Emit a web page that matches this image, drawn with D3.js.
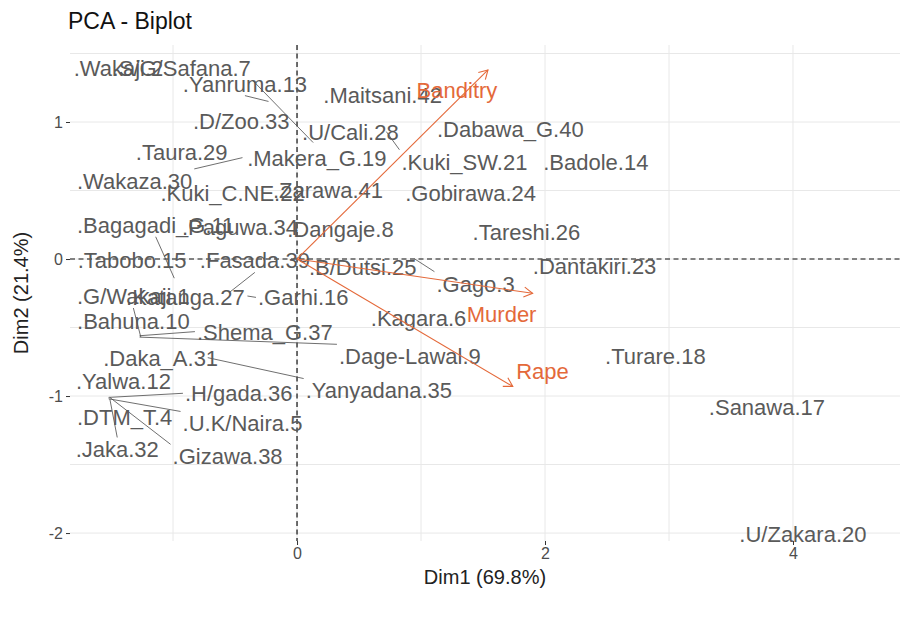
<!DOCTYPE html>
<html>
<head>
<meta charset="utf-8">
<script src="https://cdn.jsdelivr.net/npm/d3@7"></script>
<style>
  body { margin: 0; background: #fff; }
  svg { display: block; }
</style>
</head>
<body>
<svg id="chart" width="903" height="624"></svg>
<script>
// Individuals: names, PCA coordinates and repelled label positions (Dim1, Dim2)
const names = [
  ".Wakaji.2", ".S/G/Safana.7", ".Yanruma.13", ".D/Zoo.33", ".Maitsani.42", ".U/Cali.28",
  ".Dabawa_G.40", ".Taura.29", ".Makera_G.19", ".Kuki_SW.21", ".Badole.14", ".Wakaza.30",
  ".Kuki_C.NE.22", ".Zarawa.41", ".Gobirawa.24", ".Bagagadi_G.11", ".Paguwa.34", ".Dangaje.8",
  ".Tareshi.26", ".Tabobo.15", ".Fasada.39", ".B/Dutsi.25", ".Gago.3", ".Dantakiri.23",
  ".G/Wakaji.1", ".Katanga.27", ".Garhi.16", ".Bahuna.10", ".Kagara.6", ".Shema_G.37",
  ".Daka_A.31", ".Dage-Lawal.9", ".Turare.18", ".Yalwa.12", ".H/gada.36", ".Yanyadana.35",
  ".DTM_T.4", ".U.K/Naira.5", ".Jaka.32", ".Gizawa.38", ".Sanawa.17", ".U/Zakara.20"
];
const dim1 = [
  -1.44, 0.13, -0.23, -0.45, 0.69, 0.43,
  1.72, -0.93, 0.16, 0.72, 2.41, -0.44,
  -0.52, 0.25, 1.40, -0.99, -0.46, 0.35,
  1.85, -1.33, -0.54, 0.53, 0.95, 2.40,
  -1.26, -0.90, -0.40, -1.32, 0.98, -1.27,
  -1.10, -1.27, 2.89, -1.40, -1.52, -0.72,
  -1.39, -1.52, -1.51, -1.51, 3.79, 4.08
];
const dim2 = [
  1.39, 0.85, 1.15, 1.01, 1.20, 0.93,
  0.95, 0.78, 0.74, 0.93, 0.71, 0.74,
  0.48, 0.50, 0.48, -0.14, 0.23, 0.22,
  0.20, -0.01, -0.24, -0.06, 0.00, -0.05,
  -0.57, -0.28, -0.27, -0.45, -0.43, -0.56,
  -0.72, -0.57, -0.71, -0.89, -1.01, -0.72,
  -1.15, -1.02, -1.02, -1.01, -1.08, -2.01
];
const labelDim1 = [
  -1.44, -0.93, -0.42, -0.45, 0.69, 0.43,
  1.72, -0.93, 0.16, 1.35, 2.41, -1.31,
  -0.52, 0.25, 1.40, -1.14, -0.46, 0.35,
  1.85, -1.33, -0.34, 0.53, 1.44, 2.40,
  -1.32, -0.90, 0.05, -1.32, 0.98, -0.26,
  -1.10, 0.91, 2.89, -1.40, -0.47, 0.66,
  -1.39, -0.44, -1.45, -0.56, 3.79, 4.08
];
const labelDim2 = [
  1.39, 1.39, 1.28, 1.01, 1.20, 0.93,
  0.95, 0.78, 0.74, 0.71, 0.71, 0.57,
  0.48, 0.50, 0.48, 0.25, 0.23, 0.22,
  0.20, -0.01, -0.01, -0.06, -0.18, -0.05,
  -0.27, -0.28, -0.28, -0.45, -0.43, -0.53,
  -0.72, -0.71, -0.71, -0.89, -0.98, -0.96,
  -1.15, -1.20, -1.39, -1.44, -1.08, -2.01
];

// Variables: loadings drawn as arrows from the origin
const varNames = ["Banditry", "Murder", "Rape"];
const varDim1 = [1.54, 1.90, 1.74];
const varDim2 = [1.38, -0.25, -0.93];
const varLabelDim1 = [1.29, 1.65, 1.98];
const varLabelDim2 = [1.23, -0.40, -0.82];

// Axis ticks and grid
const xTicks = [0, 2, 4];
const xMinorTicks = [-1, 1, 3];
const yTicks = [-2, -1, 0, 1];
const yMinorTicks = [-1.5, -0.5, 0.5, 1.5];
const xDomain = [-1.831, 4.863];
const yDomain = [-2.058, 1.562];

const titleText = "PCA - Biplot";
const xTitle = "Dim1 (69.8%)";
const yTitle = "Dim2 (21.4%)";

const W = 903, H = 624;
const panel = { left: 70, right: 900, top: 45, bottom: 541 };
const FONT = "'Liberation Sans', Arial, Helvetica, sans-serif";
const labelSize = 22;
const indColor = "#5a5a5a";
const varColor = "#e4693a";

const svg = d3.select("#chart");
svg.append("rect").attr("width", W).attr("height", H).attr("fill", "#fff");

const x = d3.scaleLinear().domain(xDomain).range([panel.left, panel.right]);
const y = d3.scaleLinear().domain(yDomain).range([panel.bottom, panel.top]);

// Grid lines
const grid = svg.append("g").attr("stroke", "#e8e8e8").attr("stroke-width", 1);
grid.selectAll("line.vx").data(xTicks.concat(xMinorTicks)).join("line")
  .attr("x1", d => x(d)).attr("x2", d => x(d))
  .attr("y1", panel.top).attr("y2", panel.bottom);
grid.selectAll("line.hy").data(yTicks.concat(yMinorTicks)).join("line")
  .attr("x1", panel.left).attr("x2", panel.right)
  .attr("y1", d => y(d)).attr("y2", d => y(d));

// Axes (ticks + labels), axis lines hidden as in a minimal theme
const xAxis = svg.append("g")
  .attr("transform", `translate(0,${panel.bottom})`)
  .call(d3.axisBottom(x).tickValues(xTicks).tickFormat(d3.format("d")).tickSize(4).tickPadding(3));
const yAxis = svg.append("g")
  .attr("transform", `translate(${panel.left},0)`)
  .call(d3.axisLeft(y).tickValues(yTicks).tickFormat(d => d < 0 ? "-" + Math.abs(d) : d).tickSize(4).tickPadding(3));
[xAxis, yAxis].forEach(a => {
  a.select(".domain").remove();
  a.selectAll(".tick line").attr("stroke", "#333").attr("stroke-width", 1);
  a.selectAll(".tick text").attr("fill", "#4d4d4d")
    .style("font-family", FONT).style("font-size", "16px");
});

// Reference lines through the origin
const refs = svg.append("g").attr("stroke", "#111").attr("stroke-width", 1.2)
  .attr("stroke-dasharray", "5,3.5");
refs.append("line").attr("x1", x(0)).attr("x2", x(0)).attr("y1", panel.top).attr("y2", panel.bottom);
refs.append("line").attr("x1", panel.left).attr("x2", panel.right).attr("y1", y(0)).attr("y2", y(0));

// Individuals: text labels, with leader segments when a label was pushed away
const inds = names.map((n, i) => ({
  name: n, px: x(dim1[i]), py: y(dim2[i]), lx: x(labelDim1[i]), ly: y(labelDim2[i])
}));

const segG = svg.append("g").attr("stroke", "#4a4a4a").attr("stroke-width", 0.8);
const txtG = svg.append("g");

inds.forEach(d => {
  const t = txtG.append("text")
    .attr("x", d.lx).attr("y", d.ly + labelSize * 0.36)
    .attr("text-anchor", "middle")
    .attr("fill", indColor)
    .style("font-family", FONT).style("font-size", labelSize + "px")
    .text(d.name);
  const w = t.node().getComputedTextLength();
  const pad = 2;
  const x0 = d.lx - w / 2 - pad, x1 = d.lx + w / 2 + pad;
  const y0 = d.ly - 12, y1 = d.ly + 12;
  const inside = d.px >= x0 && d.px <= x1 && d.py >= y0 && d.py <= y1;
  if (inside) return;
  // nearest anchor among box corners and edge midpoints
  const cands = [];
  [x0, d.lx, x1].forEach(cx => [y0, d.ly, y1].forEach(cy => {
    if (!(cx === d.lx && cy === d.ly)) cands.push([cx, cy]);
  }));
  let best = cands[0], bd = Infinity;
  cands.forEach(c => {
    const dd = Math.hypot(c[0] - d.px, c[1] - d.py);
    if (dd < bd) { bd = dd; best = c; }
  });
  if (bd < 4) return;
  segG.append("line").attr("x1", d.px).attr("y1", d.py).attr("x2", best[0]).attr("y2", best[1]);
});

// Variable arrows
const arrG = svg.append("g").attr("stroke", varColor).attr("stroke-width", 1.1).attr("fill", "none");
varNames.forEach((v, i) => {
  const x0 = x(0), y0 = y(0), x1 = x(varDim1[i]), y1 = y(varDim2[i]);
  arrG.append("line").attr("x1", x0).attr("y1", y0).attr("x2", x1).attr("y2", y1);
  const ang = Math.atan2(y1 - y0, x1 - x0);
  const L = 10, spread = Math.PI / 6;
  const p1 = [x1 - L * Math.cos(ang - spread), y1 - L * Math.sin(ang - spread)];
  const p2 = [x1 - L * Math.cos(ang + spread), y1 - L * Math.sin(ang + spread)];
  arrG.append("path").attr("d", `M${p1[0]},${p1[1]}L${x1},${y1}L${p2[0]},${p2[1]}`);
  svg.append("text")
    .attr("x", x(varLabelDim1[i])).attr("y", y(varLabelDim2[i]) + labelSize * 0.36)
    .attr("text-anchor", "middle").attr("fill", varColor)
    .style("font-family", FONT).style("font-size", labelSize + "px")
    .text(v);
});

// Titles
svg.append("text").attr("x", 68).attr("y", 29)
  .attr("fill", "#111").style("font-family", FONT).style("font-size", "23px")
  .text(titleText);
svg.append("text").attr("x", (panel.left + panel.right) / 2).attr("y", 584)
  .attr("text-anchor", "middle").attr("fill", "#222")
  .style("font-family", FONT).style("font-size", "20px").text(xTitle);
svg.append("text")
  .attr("transform", `translate(28,${(panel.top + panel.bottom) / 2}) rotate(-90)`)
  .attr("text-anchor", "middle").attr("fill", "#222")
  .style("font-family", FONT).style("font-size", "20px").text(yTitle);
</script>
</body>
</html>
